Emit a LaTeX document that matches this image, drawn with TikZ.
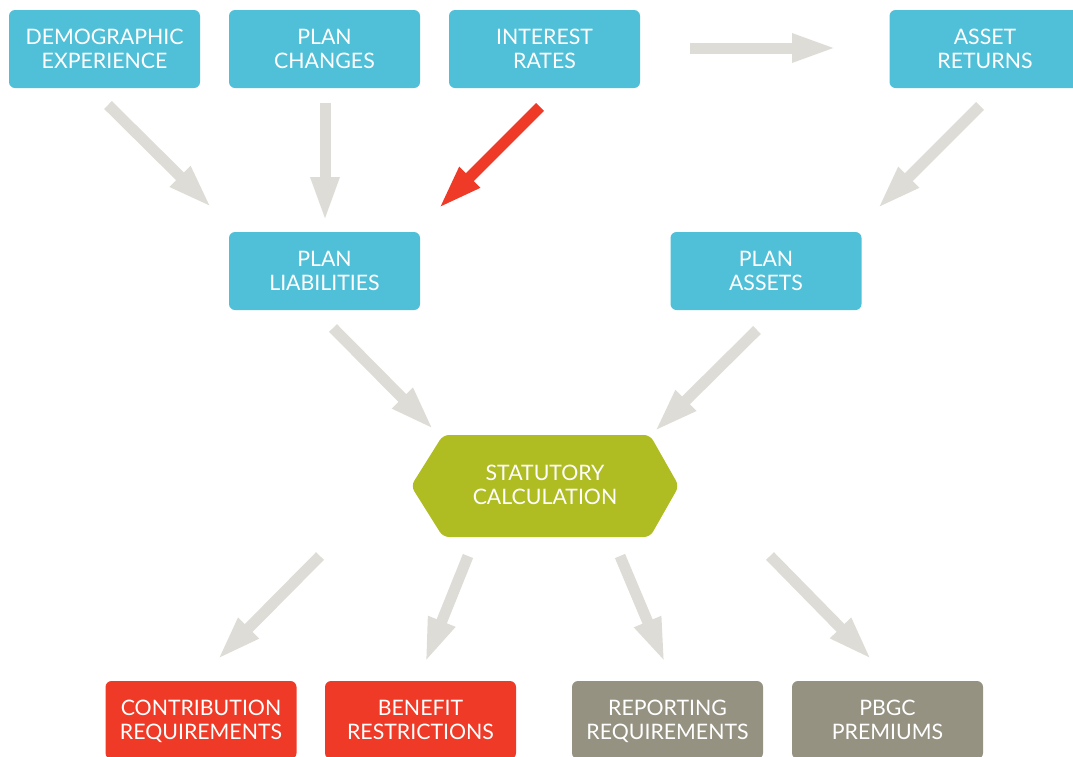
\documentclass[tikz,border=0pt]{standalone}
\usepackage{fontspec}
\setmainfont{Lato}
\usetikzlibrary{arrows.meta}

\definecolor{inblue}{HTML}{50C0D8}
\definecolor{outred}{HTML}{EE3A26}
\definecolor{outgray}{HTML}{959282}
\definecolor{calcgreen}{HTML}{AFBD22}
\definecolor{flowgray}{HTML}{DDDCD6}
\definecolor{keyred}{HTML}{EE3A26}

\begin{document}
\begin{tikzpicture}[x=1pt, y=-1pt,
    label text/.style={text=white, align=center, text depth=0pt,
      font=\fontsize{21.3}{24}\selectfont},
    box/.style={label text, rectangle, rounded corners=6pt, minimum width=191pt,
      minimum height=78pt, inner sep=0pt},
    flow/.style={line width=11pt, draw=flowgray, -{Triangle[length=45pt, width=26pt]}}]
    \path[use as bounding box, clip] (0,0) rectangle (1073,756);

    % Inputs
    \node[box, fill=inblue] (demo) at (104.5,49) {DEMOGRAPHIC\\EXPERIENCE};
    \node[box, fill=inblue] (chg) at (324.5,49) {PLAN\\CHANGES};
    \node[box, fill=inblue] (rates) at (544.5,49) {INTEREST\\RATES};
    \node[box, fill=inblue] (ret) at (985,49) {ASSET\\RETURNS};

    % Liabilities and assets
    \node[box, fill=inblue] (liab) at (324.5,271) {PLAN\\LIABILITIES};
    \node[box, fill=inblue] (assets) at (766,271) {PLAN\\ASSETS};

    % Statutory calculation
    \fill[calcgreen, rounded corners=6pt] (443,435) -- (650,435) -- (679,486)
      -- (650,537) -- (443,537) -- (411,486) -- cycle;
    \node[label text] (calc) at (545,485) {STATUTORY\\CALCULATION};

    % Results
    \node[box, fill=outred] (contrib) at (201,720) {CONTRIBUTION\\REQUIREMENTS};
    \node[box, fill=outred] (benefit) at (420.5,720) {BENEFIT\\RESTRICTIONS};
    \node[box, fill=outgray] (report) at (667.5,720) {REPORTING\\REQUIREMENTS};
    \node[box, fill=outgray] (pbgc) at (887.5,720) {PBGC\\PREMIUMS};

    % Arrow ends
    \coordinate (demo-a) at (108,105);  \coordinate (demo-b) at (212,208);
    \coordinate (chg-a) at (325,103);   \coordinate (chg-b) at (325,222);
    \coordinate (rates-a) at (540,107); \coordinate (rates-b) at (438,209);
    \coordinate (rates-c) at (690,48);  \coordinate (ret-c) at (837,48);
    \coordinate (ret-a) at (980,106);   \coordinate (ret-b) at (877,209);
    \coordinate (liab-a) at (333,328);  \coordinate (liab-b) at (434,430);
    \coordinate (assets-a) at (757,330); \coordinate (assets-b) at (654,432);
    \coordinate (calc-1) at (320,556);  \coordinate (contrib-b) at (217,660);
    \coordinate (calc-2) at (468,556);  \coordinate (benefit-b) at (425,663);
    \coordinate (calc-3) at (620,556);  \coordinate (report-b) at (665,663);
    \coordinate (calc-4) at (770,556);  \coordinate (pbgc-b) at (872,660);

    % Draw the flows
    \draw[flow] (demo-a) -- (demo-b);
    \draw[flow] (chg-a) -- (chg-b);
    \draw[flow, draw=keyred] (rates-a) -- (rates-b);
    \draw[flow] (rates-c) -- (ret-c);
    \draw[flow] (ret-a) -- (ret-b);
    \draw[flow] (liab-a) -- (liab-b);
    \draw[flow] (assets-a) -- (assets-b);
    \draw[flow] (calc-1) -- (contrib-b);
    \draw[flow] (calc-2) -- (benefit-b);
    \draw[flow] (calc-3) -- (report-b);
    \draw[flow] (calc-4) -- (pbgc-b);
\end{tikzpicture}
\end{document}
